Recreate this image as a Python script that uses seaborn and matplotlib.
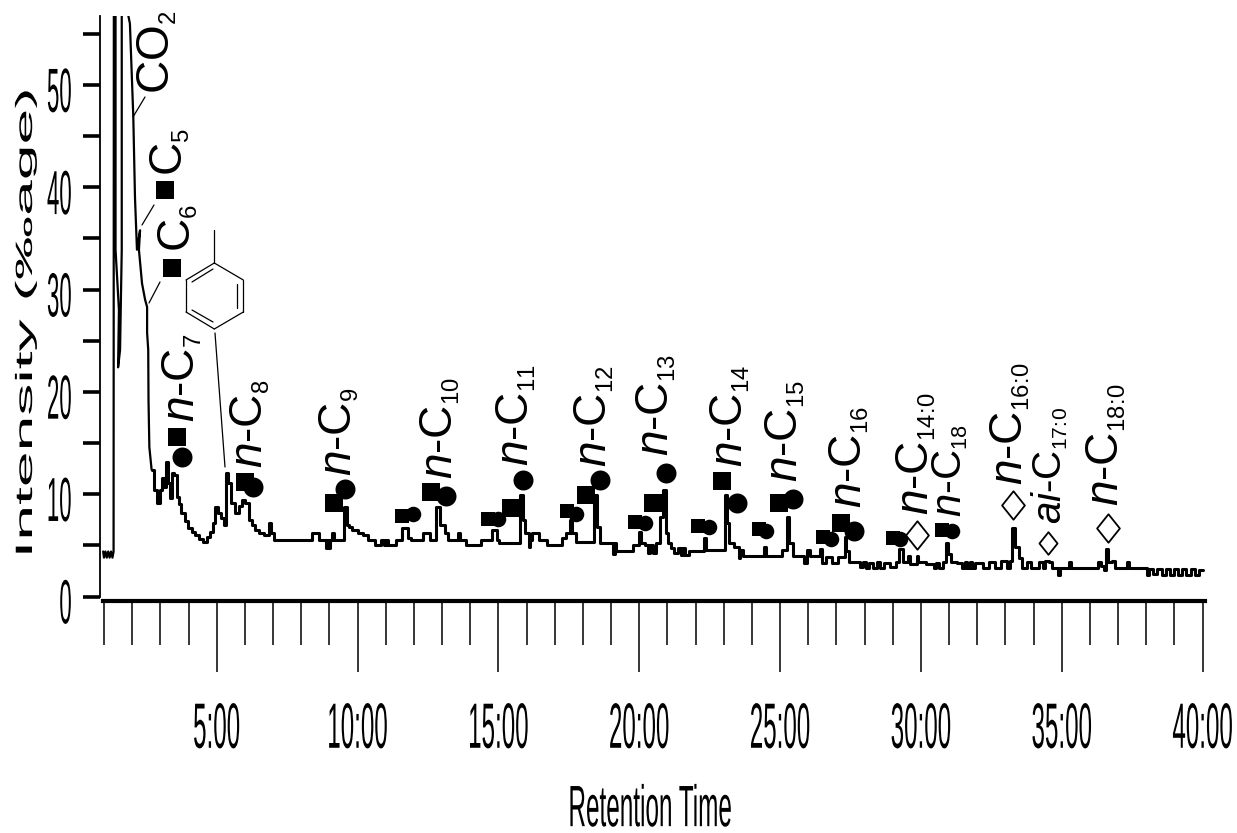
import numpy as np
import pandas as pd
import matplotlib
matplotlib.use("Agg")
import matplotlib.pyplot as plt
import matplotlib.patheffects as pe
import matplotlib.path as mpath
from matplotlib.lines import Line2D
from matplotlib.transforms import Affine2D
import matplotlib._mathtext as _mt
import seaborn as sns

_mt.SHRINK_FACTOR = 0.52
_mt.FontConstantsBase.subdrop = 0.6

# ---- trace: (minutes, intensity)
solvent_front = [(0.97,4.4),(1.0,3.8),(1.05,4.4),(1.1,3.8),(1.15,4.4),(1.2,3.8),(1.25,4.4),(1.3,3.8),(1.34,4.4),
 (1.35,60),(1.41,60),(1.41,33.9),(1.53,28),(1.50,22.4),(1.57,24.1),(1.63,33.9),(1.63,60),(1.92,56),(2.04,46.9),
 (2.10,39),(2.17,33.9),(2.28,35.8),(2.24,33.9),(2.35,30.6),(2.46,29),(2.53,28.3),(2.53,25.8),(2.57,24.1),(2.58,19.2),(2.61,14.6),(2.69,12.4)]
front_peaks = [(2.69,12.4),(2.87,10.4),(2.92,9.1),(3.05,10.4),(3.09,11.6),(3.17,10.7),(3.24,13.1),(3.32,11.1),(3.40,9.6),(3.44,12.1),
 (3.56,11.9),(3.59,9.7),(3.70,9.0),(3.80,8.2),(3.92,7.4),(4.05,6.7),(4.18,6.3),(4.30,6.0),(4.45,5.6),(4.59,5.3),(4.72,5.8),(4.83,6.3),(4.92,7.2),(4.98,8.7),(5.12,8.2),(5.22,7.7),(5.30,7.0),(5.36,12.1),
 (5.47,11.1),(5.58,9.1),(5.72,8.2),(5.85,8.8),(5.93,9.4),(6.08,9.1),(6.18,7.5),(6.30,7.0),(6.43,6.5),(6.60,6.2),(6.79,6.0),(6.89,7.2),(6.97,6.2),(7.07,5.5)]
c9_c11 = [(8.38,5.5),(8.42,6.2),(8.60,6.2),(8.67,5.5),(8.85,5.5),(8.88,4.7),(8.95,5.5),(8.98,4.7),(9.06,5.5),(9.13,6.2),(9.2,5.5),
 (9.50,5.5),(9.56,8.7),(9.66,7.0),(9.73,6.8),(9.91,6.5),(10.09,6.2),(10.3,6.0),(10.44,5.5),(10.8,5.0),(10.9,5.5),(10.95,5.0),
 (11.05,5.5),(11.1,5.0),(11.22,5.0),(11.5,5.5),(11.69,6.7),(11.86,5.7),(11.93,5.5),(12.30,5.5),(12.32,6.2),(12.57,6.2),(12.6,5.5),
 (12.78,5.5),(12.82,8.7),(13.03,7.0),(13.15,6.2),(13.28,5.5),(13.55,5.5),(13.57,6.2),(13.7,5.5),(14.0,5.0),(14.35,5.0),(14.42,5.5),
 (14.7,5.5),(14.88,6.5),(15.0,5.5),(15.06,5.2),(15.7,5.2),(15.83,9.9),(15.9,7.5),(16.0,6.2),(16.08,6.2),(16.1,4.8),(16.18,5.5),
 (16.2,6.2),(16.4,6.2),(16.45,5.5),(16.7,5.5),(16.75,5.0),(17.2,5.0),(17.3,5.7),(17.5,6.2),(17.57,7.5),(17.65,6.2),(17.85,5.3)]
c12_c16 = [(18.37,5.3),(18.45,9.9),(18.55,6.8),(18.7,5.2),(19.05,5.2),(19.1,4.2),(19.15,5.2),(19.2,4.4),(19.6,4.4),(19.95,5.0),(20.0,6.3),
 (20.1,5.2),(20.3,5.0),(20.35,4.3),(20.45,5.0),(20.5,4.3),(20.7,5.2),(20.8,7.8),(20.89,10.4),(21.0,6.2),(21.05,5.2),(21.2,4.7),
 (21.3,4.3),(21.45,4.7),(21.5,4.1),(21.6,4.7),(21.65,4.1),(21.9,4.4),(22.3,4.4),(22.33,5.7),(22.4,4.5),(23.0,4.5),(23.08,9.9),(23.15,7.2),
 (23.25,5.2),(23.5,4.8),(23.55,3.8),(23.62,4.5),(23.75,4.0),(24.4,4.0),(24.46,4.8),(24.52,4.0),(25.0,4.0),(25.12,4.5),(25.22,4.5),(25.25,7.8),
 (25.35,5.2),(25.55,4.0),(25.8,4.0),(25.9,3.3),(26.0,4.5),(26.1,4.0),(26.4,4.0),(26.45,4.6),(26.5,3.3),(26.75,3.9),(26.95,3.3),
 (27.15,3.9),(27.28,3.9),(27.3,5.8),(27.37,4.4),(27.5,3.4)]
late = [(27.8,3.4),(27.9,2.9),(28.0,3.4),(28.1,2.8),(28.2,3.3),(28.4,2.8),(28.5,3.4),(28.6,2.8),(28.8,3.3),(29.0,2.9),(29.2,3.4),
 (29.25,4.6),(29.35,4.6),(29.4,3.4),(29.5,3.4),(29.55,4.0),(29.65,3.2),(29.84,3.2),(29.86,4.0),(29.95,3.4),(30.4,3.2),(30.5,2.8),(30.6,3.3),
 (30.7,2.8),(30.85,3.4),(30.93,5.2),(31.0,4.2),(31.15,3.4),(31.4,3.3),(31.5,2.8),(31.6,3.4),(31.7,2.8),(31.75,3.4),(31.85,2.8),
 (32.0,3.3),(32.4,2.8),(32.45,3.4),(32.8,2.8),(32.85,3.5),(33.0,3.5),(33.1,2.8),(33.2,3.5),(33.25,6.7),(33.4,4.8),(33.55,3.8),(33.65,2.8),
 (33.85,3.4),(33.95,2.8),(34.1,2.8),(34.3,3.4),(34.35,2.8),(34.47,3.5),(34.6,3.4),(34.7,2.8),(34.85,2.8),(34.9,2.1),(34.95,2.8),
 (35.2,2.8),(35.3,3.4),(35.35,2.8),(36.25,2.8),(36.3,3.4),(36.45,3.0),(36.55,2.6),(36.6,4.6),(36.68,3.4),(36.85,3.5),(36.95,2.8),
 (37.3,2.8),(37.35,3.4),(37.4,2.8),(38.0,2.8),(38.02,2.1),(38.2,2.7),(38.25,2.2),(38.5,2.7),(38.6,2.1),(38.8,2.7),(38.85,2.1),
 (39.1,2.7),(39.15,2.1),(39.4,2.7),(39.45,2.1),(39.7,2.7),(39.75,2.1),(40.0,2.6)]
stepped_points = front_peaks + c9_c11 + c12_c16 + late

# ---- compound markers (minutes, intensity)
square_time = [3.18,3.40,3.59,6.00,9.16,12.60,15.45,18.11,20.49,22.94,24.96,27.16]
square_value = [39.7,32.1,15.6,11.2,9.1,10.2,8.65,9.9,9.1,11.3,9.1,7.2]
circle_time = [3.77,6.29,9.56,13.14,15.87,18.61,20.95,23.47,25.46,27.62]
circle_value = [13.6,10.7,10.5,9.8,11.4,11.4,12.1,9.1,9.5,6.4]
small_square_time = [11.58,14.63,17.44,19.85,22.09,24.25,26.52,29.00,30.75]
small_square_value = [7.9,7.6,8.4,7.3,6.9,6.6,5.8,5.7,6.5]
small_circle_time = [11.97,14.99,17.76,20.20,22.48,24.50,26.81,29.26,31.10]
small_circle_value = [8.1,7.6,8.1,7.2,6.8,6.4,5.6,5.6,6.4]
diamond_time = [29.86,33.27,36.64]
diamond_value = [6.0,8.9,6.7]
small_diamond_time = [34.50]
small_diamond_value = [5.2]

y_ticks = [0,5,10,15,20,25,30,35,40,45,50,55]
y_tick_labels = ["0","","10","","20","","30","","40","","50",""]
x_major = [5,10,15,20,25,30,35,40]
x_major_labels = ["5:00","10:00","15:00","20:00","25:00","30:00","35:00","40:00"]

W, H = 1237, 833
sns.set_style("white")
plt.rcParams["font.family"] = ["Liberation Sans", "DejaVu Sans"]
plt.rcParams["text.color"] = "black"
plt.rcParams["mathtext.fontset"] = "custom"
plt.rcParams["mathtext.rm"] = "Liberation Sans"
plt.rcParams["mathtext.it"] = "Liberation Sans:italic"
plt.rcParams["mathtext.bf"] = "Liberation Sans:bold"
plt.rcParams["mathtext.default"] = "rm"


class Stretch(pe.AbstractPathEffect):
    """Anisotropic glyph scale about the text's own centre (the source chart's text is stretched)."""
    def __init__(self, sx=1.0, sy=1.0, dy=0.0):
        super().__init__()
        self.sx, self.sy, self.dy = sx, sy, dy

    def draw_path(self, renderer, gc, tpath, affine, rgbFace=None):
        e = tpath.get_extents()
        cx, cy = e.x0 + e.width / 2, e.y0 + e.height / 2
        a = (Affine2D().translate(-cx, -cy).scale(self.sx, self.sy).translate(cx, cy)
             + affine + Affine2D().translate(0, -self.dy))
        renderer.draw_path(gc, tpath, a, rgbFace)


fig = plt.figure(figsize=(W/100, H/100), dpi=100, facecolor="white")
fx = lambda p: p / W
fy = lambda p: 1 - p / H
L, R, T, B = 99.5, 1205.0, 16.0, 596.5
ax = fig.add_axes([fx(L), fy(B), (R-L)/W, (B-T)/H])
ax.set_xlim(1 + (L-104)/28.17, 1 + (R-104)/28.17)
ax.set_ylim(0, (B-T)/10.23)

front = pd.DataFrame(solvent_front, columns=["time", "value"])
sns.lineplot(data=front, x="time", y="value", color="black", lw=1.6, estimator=None,
             sort=False, errorbar=None, ax=ax)
rest = pd.DataFrame(stepped_points, columns=["time", "value"])
sns.lineplot(data=rest, x="time", y="value", color="black", lw=2.2, estimator=None,
             sort=False, errorbar=None, ax=ax, drawstyle="steps-mid")

rhomb = mpath.Path([(-0.8, 0), (0, 1), (0.8, 0), (0, -1), (-0.8, 0)], closed=True)

def marks(t, v, m, s, **kw):
    sns.scatterplot(x=t, y=v, marker=m, s=s, ax=ax, clip_on=False, zorder=5, **kw)

marks(square_time, square_value, "s", 170, color="black", linewidth=0)
marks(circle_time, circle_value, "o", 207, color="black", linewidth=0)
marks(small_square_time, small_square_value, "s", 105, color="black", linewidth=0)
marks(small_circle_time, small_circle_value, "o", 125, color="black", linewidth=0)
marks(diamond_time, diamond_value, rhomb, 420, facecolor="white", edgecolor="black", linewidth=1.3)
marks(small_diamond_time, small_diamond_value, rhomb, 265, facecolor="white", edgecolor="black", linewidth=1.3)

# axes styling
sns.despine(ax=ax, top=True, right=True)
ax.spines["left"].set_linewidth(1.3)
ax.spines["left"].set_color("black")
ax.spines["bottom"].set_position(("outward", 3.3))
ax.spines["bottom"].set_bounds(0.95, 40.07)
ax.spines["bottom"].set_linewidth(3.0)
ax.spines["bottom"].set_color("black")
ax.set_xlabel(""); ax.set_ylabel("")
ax.set_yticks(y_ticks)
ax.set_yticklabels(y_tick_labels, fontsize=16)
ax.tick_params(axis="y", which="major", length=12.5, width=2.6, color="black", pad=7.5, left=True, labelcolor="black")
ax.set_xticks(x_major)
ax.set_xticklabels(x_major_labels, fontsize=17.4)
ax.set_xticks(range(1, 41), minor=True)
ax.tick_params(axis="x", which="major", length=51, width=1.1, color="black", pad=32.5, bottom=True, labelcolor="black")
ax.tick_params(axis="x", which="minor", length=32, width=1.1, color="black", bottom=True)
for lab in ax.get_yticklabels():
    lab.set_path_effects([Stretch(sy=2.8, dy=5)])
for lab in ax.get_xticklabels():
    lab.set_path_effects([Stretch(sy=2.65)])

t = fig.text(fx(650), fy(808), "Retention Time", fontsize=17.5, ha="center", va="center", color="black")
t.set_path_effects([Stretch(sy=2.4)])
t = fig.text(fx(32), fy(322), "Intensity (‰age)", fontsize=17, rotation=90, ha="center", va="baseline",
             rotation_mode="anchor", color="black")
t.set_path_effects([Stretch(sx=2.72)])

# compound labels: text, baseline x, start y, size
N = r"$\mathit{n}$-C"
C = r"\!:\!"
labels = [
 ("CO$_{2}$",170,94,33),("C$_{5}$",183,175.6,33),("C$_{6}$",190,252,33),
 (N+"$_{7}$",195,422,33),(N+"$_{8}$",262,468,33),(N+"$_{9}$",351.7,476,33),
 (N+"$_{10}$",452,479,33),(N+"$_{11}$",528,466,33),(N+"$_{12}$",606,467,33),
 (N+"$_{13}$",669,456,33),(N+"$_{14}$",743,467,33),(N+"$_{15}$",798,482,33),
 (N+"$_{16}$",861.7,508,33),(N+"$_{14"+C+"0}$",928,515,33),(N+"$_{18}$",961,517,30),
 (N+"$_{16"+C+"0}$",1023,485,33),(r"$\mathit{ai}$-C$_{17"+C+"0}$",1061.7,524,29),(N+"$_{18"+C+"0}$",1119,506,33),
]
for s, x, y, fs in labels:
    fig.text(fx(x), fy(y), s, rotation=90, ha="left", va="baseline", rotation_mode="anchor",
             fontsize=fs, color="black")

def seg(x0, y0, x1, y1, lw=0.9):
    fig.add_artist(Line2D([fx(x0), fx(x1)], [fy(y0), fy(y1)], color="black", lw=lw,
                          transform=fig.transFigure))

# leader lines
seg(133, 117, 145, 97)
seg(142, 225, 154, 205)
seg(149, 303, 160, 282)
seg(215, 333, 225, 467)
# toluene ring
hexa = [(214.3,263),(243.3,280),(243.3,312),(214.3,329),(186,312),(186,280)]
for i in range(6):
    seg(*hexa[i], *hexa[(i+1) % 6])
seg(214.3, 230, 214.3, 263)
seg(237.5, 284, 237.5, 308)
seg(192, 282, 213, 269)
seg(192, 310, 213, 322)

fig.savefig("out.png", dpi=100, facecolor="white")
